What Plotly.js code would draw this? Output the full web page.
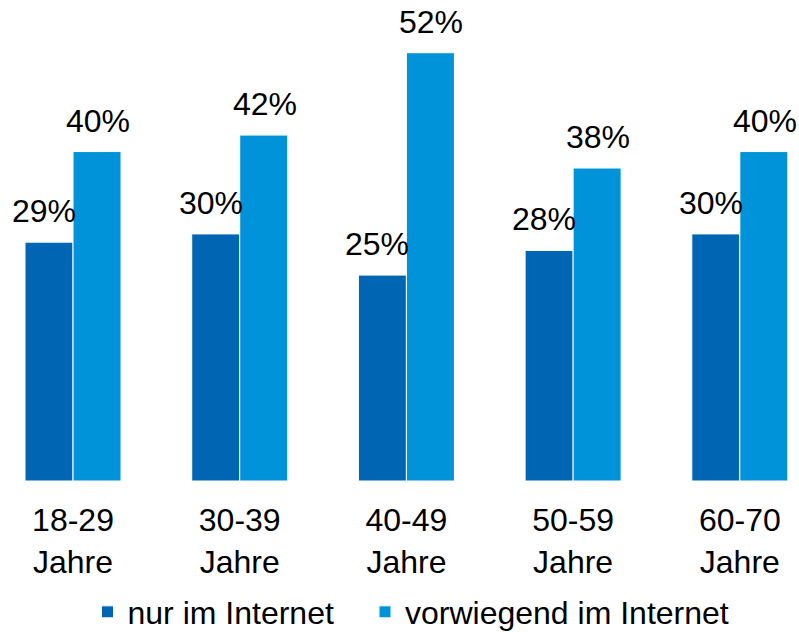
<!DOCTYPE html>
<html>
<head>
<meta charset="utf-8">
<script src="https://cdn.plot.ly/plotly-3.0.1.min.js"></script>
<style>html,body{margin:0;padding:0;background:#fff;}#chart{width:799px;height:632px;}</style>
</head>
<body>
<div id="chart"></div>
<script>
const categories = ["18-29<br>Jahre", "30-39<br>Jahre", "40-49<br>Jahre", "50-59<br>Jahre", "60-70<br>Jahre"];
const seriesNames = ["nur im Internet", "vorwiegend im Internet"];
const nurImInternet = [29, 30, 25, 28, 30];
const vorwiegendImInternet = [40, 42, 52, 38, 40];
const colors = ["#0066B3", "#0093D9"];

const FONT = "Liberation Sans, Arial, sans-serif";
const FS = 32;

const traces = [
  {type: "bar", name: seriesNames[0], x: categories, y: nurImInternet, legend: "legend",
   marker: {color: colors[0], line: {color: "#ffffff", width: 1}}, hoverinfo: "none"},
  {type: "bar", name: seriesNames[1], x: categories, y: vorwiegendImInternet, legend: "legend2",
   marker: {color: colors[1], line: {color: "#ffffff", width: 1}}, hoverinfo: "none"}
];

const annotations = [];
[nurImInternet, vorwiegendImInternet].forEach((vals, si) => {
  vals.forEach((v, i) => {
    annotations.push({
      x: categories[i], y: v, xref: "x", yref: "y",
      text: v + "%", showarrow: false,
      xshift: si === 0 ? -29 : 25, yshift: 31, yanchor: "middle",
      font: {family: FONT, size: FS, color: "#000000"}
    });
  });
});

const legendBase = {orientation: "h", xanchor: "left", xref: "container", yref: "container",
  y: 0.0316, yanchor: "middle", bgcolor: "rgba(0,0,0,0)",
  font: {family: FONT, size: FS, color: "#000000"}};

const layout = {
  width: 799, height: 632,
  margin: {l: 0, r: 0, t: 0, b: 151, autoexpand: false},
  paper_bgcolor: "#ffffff", plot_bgcolor: "#ffffff",
  barmode: "group", bargap: 0.424, bargroupgap: 0,
  font: {family: FONT, size: FS, color: "#000000"},
  xaxis: {range: [-0.438, 4.355], showgrid: false, zeroline: false, showline: false, automargin: false,
          ticks: "", ticklabelstandoff: 17, tickfont: {family: FONT, size: FS, color: "#000000"}},
  yaxis: {range: [0, 58.4], visible: false, showgrid: false, zeroline: false, automargin: false},
  showlegend: true,
  legend: Object.assign({}, legendBase, {x: 87.5 / 799}),
  legend2: Object.assign({}, legendBase, {x: 365 / 799}),
  annotations: annotations
};

Plotly.newPlot("chart", traces, layout, {displayModeBar: false, staticPlot: true});
</script>
</body>
</html>
